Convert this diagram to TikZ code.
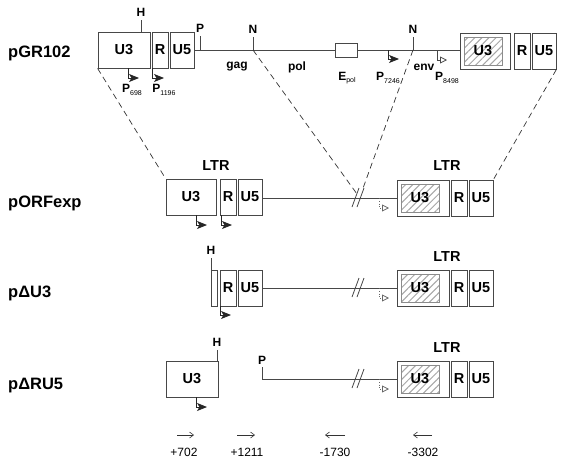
\documentclass[tikz,border=0pt]{standalone}
\usepackage{fontspec}
\setmainfont{Liberation Sans}
\usetikzlibrary{arrows.meta,patterns.meta}
\newcommand{\sub}[1]{\raisebox{-2.5pt}{\fontsize{7}{7}\mdseries\selectfont #1}}
\begin{document}
\begin{tikzpicture}[x=1pt,y=-1pt,
  ln/.style={draw=black!72,line width=0.8pt},
  box/.style={ln,fill=white,inner sep=0pt,minimum height=36pt,font=\bfseries\fontsize{14.5}{14.5}\selectfont},
  hatch/.style={draw=black!45,line width=0.7pt,inner sep=0pt,minimum width=38pt,minimum height=28pt,
     pattern={Lines[angle=45,distance=5pt,line width=1pt]},pattern color=black!35},
  rowlbl/.style={anchor=west,inner sep=0pt,font=\bfseries\fontsize{16.5}{16.5}\selectfont},
  site/.style={inner sep=0pt,font=\bfseries\fontsize{12}{12}\selectfont},
  ltr/.style={inner sep=0pt,font=\bfseries\fontsize{14.5}{14.5}\selectfont},
  num/.style={inner sep=0pt,font=\fontsize{12}{12}\selectfont},
  prom/.style={draw=black!85,line width=0.9pt,-{Stealth[length=10pt,width=8pt,inset=2.5pt]}},
  oprom/.style={ln,-{Triangle[open,length=7pt,width=7pt]}},
  dprom/.style={draw=black!60,line width=0.8pt,dotted,-{Triangle[open,length=7pt,width=7pt]}},
  dsh/.style={draw=black!80,line width=0.7pt,dash pattern=on 6pt off 4pt},
  tick/.style={ln},
  brk/.style={ln},
  barr/.style={draw=black!80,line width=0.6pt,-{Straight Barb[length=4pt,width=6pt]}}
]
\useasboundingbox (0,0) rectangle (564,463);

% ---------------- pGR102 ----------------
\node[rowlbl] (l1) at (8,53) {pGR102};
\node[box,minimum width=52pt] (U3a) at (124,50) {U3};
\node[box,minimum width=16pt] (Ra) at (160,50) {R};
\node[box,minimum width=24pt] (U5a) at (182,50) {U5};
\node[box,minimum width=50pt] (U3b) at (485,51) {};
\node[hatch] (U3bi) at (483,51) {};
\node[box,draw=none,fill=none] at (U3bi) {U3};
\node[box,minimum width=16pt] (Rb) at (522,51) {R};
\node[box,minimum width=24pt] (U5b) at (544,51) {U5};
\draw[ln] (U5a.east) -- (U3b.west |- U5a.east);
\node[ln,fill=white,minimum width=22pt,minimum height=14pt,inner sep=0pt] (Epol) at (346,50) {};
% sites
\node[site] (H1) at (141,12) {H};
\draw[tick] (141,32) -- (141,20);
\node[site] (P1) at (200,28) {P};
\draw[tick] (200,50) -- (200,36);
\node[site] (N1) at (253,29) {N};
\draw[tick] (253,50) -- (253,37);
\node[site] (N2) at (413,29) {N};
\draw[tick] (413,50) -- (413,37);
\node[site] (gag) at (237,67) {gag};
\node[site] (pol) at (297,67) {pol};
\node[site] (env) at (424,67) {env};
\node[site] (Epl) at (347,78) {E\sub{pol}};
\node[site] (P7l) at (388,78) {P\sub{7246}};
\node[site] (P8l) at (447,78) {P\sub{8498}};
\node[site] (P6l) at (132,90) {P\sub{698}};
\node[site] (P11l) at (164,90) {P\sub{1196}};
% promoters
\draw[prom] (128,68) |- (139,78);
\draw[prom] (152,68) |- (164,78);
\draw[prom] (388,50) |- (399,59);
\draw[oprom] (437,50) |- (447,60);

% ---------------- pORFexp ----------------
\node[rowlbl] (l2) at (8,203) {pORFexp};
\node[box,minimum width=50pt] (U3c) at (191,197) {U3};
\node[box,minimum width=16pt] (Rc) at (228,197) {R};
\node[box,minimum width=24pt] (U5c) at (250,197) {U5};
\node[box,minimum width=52pt] (U3d) at (423,198) {};
\node[hatch] (U3di) at (420,198) {};
\node[box,draw=none,fill=none] at (U3di) {U3};
\node[box,minimum width=16pt] (Rd) at (459,198) {R};
\node[box,minimum width=24pt] (U5d) at (481,198) {U5};
\draw[ln] (U5c.east |- 0,198) -- (U3d.west);
\draw[brk] (352,207) -- (359,188) (357,207) -- (364,188);
\node[ltr] (ltr1) at (216,166) {LTR};
\node[ltr] (ltr2) at (447,166) {LTR};
\draw[prom] (196,215) |- (207,225);
\draw[prom] (221,215) |- (232,225);
\draw[dprom] (379,198) |- (389,208);

% ---------------- pDeltaU3 ----------------
\node[rowlbl] (l3) at (8,293) {pΔU3};
\node[box,minimum width=6pt] (U3e) at (214,288) {};
\node[box,minimum width=16pt] (Re) at (228,288) {R};
\node[box,minimum width=24pt] (U5e) at (250,288) {U5};
\node[box,minimum width=52pt] (U3f) at (423,288) {};
\node[hatch] (U3fi) at (420,288) {};
\node[box,draw=none,fill=none] at (U3fi) {U3};
\node[box,minimum width=16pt] (Rf) at (459,288) {R};
\node[box,minimum width=24pt] (U5f) at (481,288) {U5};
\draw[ln] (U5e.east) -- (U3f.west);
\draw[brk] (352,297) -- (359,278) (357,297) -- (364,278);
\node[ltr] (ltr3) at (447,257) {LTR};
\node[site] (H3) at (211,250) {H};
\draw[tick] (211,270) -- (211,258);
\draw[prom] (220,306) |- (231,315);
\draw[dprom] (379,288) |- (389,298);

% ---------------- pDeltaRU5 ----------------
\node[rowlbl] (l4) at (8,386) {pΔRU5};
\node[box,minimum width=52pt] (U3g) at (192,379) {U3};
\node[box,minimum width=52pt] (U3h) at (423,379) {};
\node[hatch] (U3hi) at (420,379) {};
\node[box,draw=none,fill=none] at (U3hi) {U3};
\node[box,minimum width=16pt] (Rh) at (459,379) {R};
\node[box,minimum width=24pt] (U5h) at (481,379) {U5};
\draw[ln] (262,379) -- (U3h.west);
\draw[brk] (352,388) -- (359,369) (357,388) -- (364,369);
\node[ltr] (ltr4) at (447,348) {LTR};
\node[site] (H4) at (217,342) {H};
\draw[tick] (217,361) -- (217,350);
\node[site] (P4) at (262,360) {P};
\draw[tick] (262,379) -- (262,367);
\draw[prom] (196,397) |- (207,407);
\draw[dprom] (379,379) |- (389,389);

% ---------------- dashed correspondences ----------------
\coordinate (bk1) at (357,194);
\coordinate (bk2) at (362,191);
\draw[dsh] (U3a.south west) -- (U3c.north west);
\draw[dsh] (253,50) -- (bk1);
\draw[dsh] (413,50) -- (bk2);
\draw[dsh] (U5b.south east) -- (U5d.north east);

% ---------------- primers ----------------
\draw[barr] (177,435) -- (194,435);
\draw[barr] (237,435) -- (255,435);
\draw[barr] (345,435) -- (325,435);
\draw[barr] (432,435) -- (413,435);
\node[num] (n1) at (184,452) {+702};
\node[num] (n2) at (247,452) {+1211};
\node[num] (n3) at (335,452) {-1730};
\node[num] (n4) at (423,452) {-3302};
\end{tikzpicture}
\end{document}
